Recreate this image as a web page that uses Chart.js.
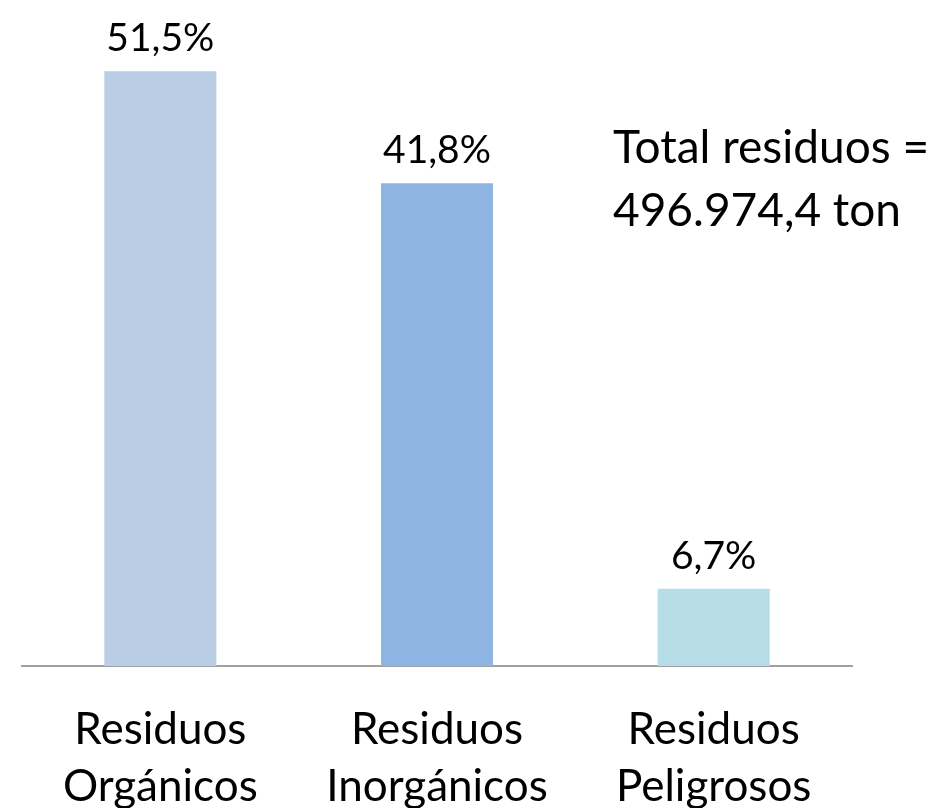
<!DOCTYPE html>
<html>
<head>
<meta charset="utf-8">
<script src="https://cdn.jsdelivr.net/npm/chart.js@4"></script>
<style>
  html, body { margin: 0; padding: 0; background: #fff; }
  #wrap { width: 927px; height: 808px; position: relative; }
</style>
</head>
<body>
<div id="wrap"><canvas id="chart"></canvas></div>
<script>
const categories = [['Residuos', 'Orgánicos'], ['Residuos', 'Inorgánicos'], ['Residuos', 'Peligrosos']];
const shares = [51.5, 41.8, 6.7];
const barColors = ['#b9cde5', '#8eb4e3', '#b7dee8'];
const totalNote = ['Total residuos =', '496.974,4 ton'];
const FONT = 'Lato, "Open Sans", sans-serif';

const labelPlugin = {
   id: 'labels',
   afterDatasetsDraw(chart) {
      const c = chart.ctx;
      c.save();
      c.fillStyle = '#000';
      c.font = '39px ' + FONT;
      c.textAlign = 'center';
      c.textBaseline = 'alphabetic';
      chart.getDatasetMeta(0).data.forEach(function(bar, i) {
         c.fillText(shares[i].toFixed(1).replace('.', ',') + '%', bar.x, bar.y - 20);
      });
      // note on the right
      c.font = '46px ' + FONT;
      c.textAlign = 'left';
      c.fillText(totalNote[0], 613, 163);
      c.fillText(totalNote[1], 613, 226);
      c.restore();
   }
};

const ctx = document.getElementById('chart').getContext('2d');
const chart = new Chart(ctx, {
   type: 'bar',
   data: {
      labels: categories,
      datasets: [{
         data: shares,
         backgroundColor: barColors,
         categoryPercentage: 1,
         barPercentage: 0.405
      }]
   },
   options: {
      responsive: true,
      maintainAspectRatio: false,
      animation: false,
      layout: { padding: { left: 22, right: 75, top: 2, bottom: 0 } },
      plugins: { legend: { display: false }, tooltip: { enabled: false } },
      scales: {
         x: {
            grid: { display: false, drawTicks: false },
            border: { color: '#a0a0a0', width: 2 },
            ticks: { color: '#000', font: { size: 44, family: FONT, lineHeight: 1.3 }, padding: 35, maxRotation: 0, autoSkip: false },
            afterFit: function(scale) { scale.height = 142; }
         },
         y: {
            display: false,
            min: 0,
            max: 57.5
         }
      }
   },
   plugins: [labelPlugin]
});
</script>
</body>
</html>
